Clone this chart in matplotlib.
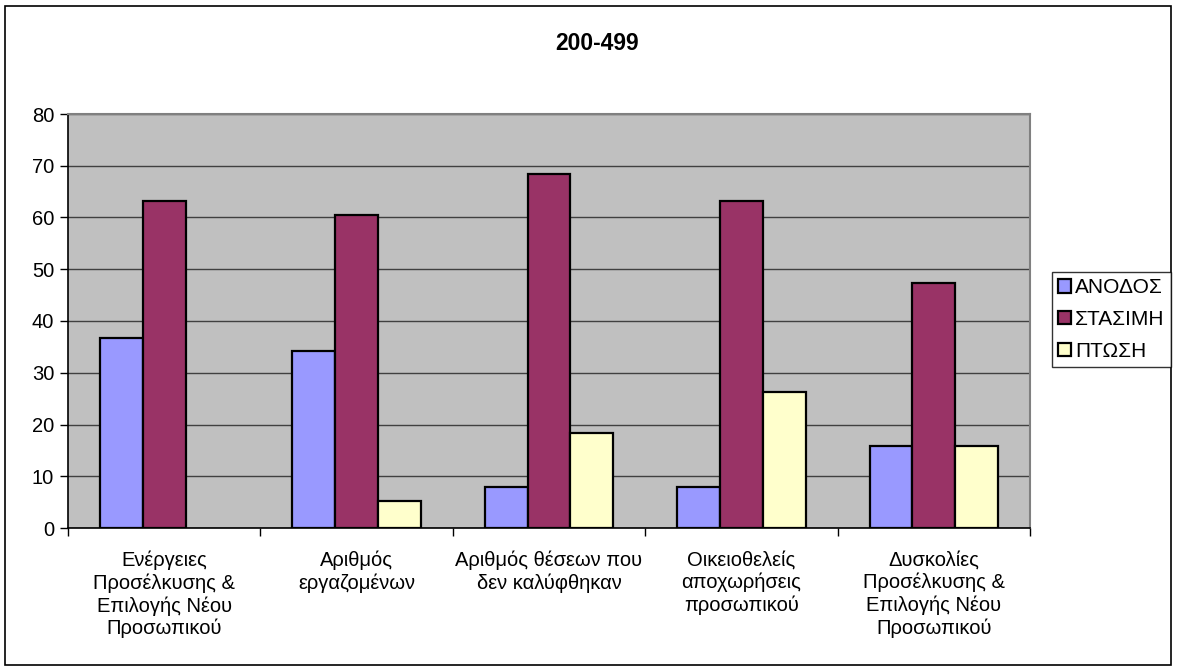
import numpy as np
import matplotlib.pyplot as plt
from matplotlib.patches import Rectangle, Patch

plt.rcParams['font.family'] = ['Liberation Sans', 'DejaVu Sans']

# Δεδομένα
categories = ['Ενέργειες\nΠροσέλκυσης &\nΕπιλογής Νέου\nΠροσωπικού',
              'Αριθμός\nεργαζομένων',
              'Αριθμός θέσεων που\nδεν καλύφθηκαν',
              'Οικειοθελείς\nαποχωρήσεις\nπροσωπικού',
              'Δυσκολίες\nΠροσέλκυσης &\nΕπιλογής Νέου\nΠροσωπικού']
series_names = ['ΑΝΟΔΟΣ', 'ΣΤΑΣΙΜΗ', 'ΠΤΩΣΗ']
anodos = [36.8, 34.2, 7.9, 7.9, 15.8]
stasimi = [63.2, 60.5, 68.4, 63.2, 47.4]
ptosi = [0, 5.3, 18.4, 26.3, 15.8]
colors = ['#9999FF', '#993366', '#FFFFCC']

fig = plt.figure(figsize=(11.77, 6.72), dpi=100)
W, H = 1177, 672

# περίγραμμα γραφήματος
fig.patches.append(Rectangle((5 / W, 1 - 665 / H), 1166 / W, 659 / H,
                             transform=fig.transFigure, fill=False,
                             edgecolor='black', linewidth=1.2))

ax = fig.add_axes([68 / W, 1 - 528 / H, (1030 - 68) / W, (528 - 114) / H])
ax.set_facecolor('#C0C0C0')

x = np.arange(len(categories))
w = 1 / 4.5
handles = []
for i, (vals, name) in enumerate(zip([anodos, stasimi, ptosi], series_names)):
    bars = ax.bar(x + (i - 1) * w, vals, w, color=colors[i], edgecolor='black',
                  linewidth=1.6, zorder=3)
    for b, v in zip(bars, vals):
        if v == 0:
            b.set_visible(False)
    handles.append(Patch(facecolor=colors[i], edgecolor='black',
                         linewidth=1.6, label=name))

ax.set_xlim(-0.5, len(categories) - 0.5)
ax.set_ylim(0, 80)
ax.set_yticks(np.arange(0, 81, 10))
ax.yaxis.grid(True, color='#404040', linewidth=1.0, zorder=1)
ax.set_axisbelow(True)
ax.tick_params(axis='y', labelsize=14.5, length=6, width=1, pad=4)

ax.set_xticks(np.arange(-0.5, len(categories)), minor=False)
ax.set_xticklabels([])
ax.set_xticks(x, minor=True)
ax.set_xticklabels(categories, minor=True, fontsize=14.5, linespacing=1.22)
ax.tick_params(axis='x', which='major', length=6, width=1)
ax.tick_params(axis='x', which='minor', length=0, pad=16)

for s in ['top', 'right']:
    ax.spines[s].set_color('#808080')
    ax.spines[s].set_linewidth(1.5)
for s in ['left', 'bottom']:
    ax.spines[s].set_color('black')
    ax.spines[s].set_linewidth(1.2)

fig.text(0.507, 1 - 43 / H, '200-499', ha='center', va='center',
         fontsize=16.5, fontweight='bold')

leg = fig.legend(handles=handles, loc='upper left',
                 bbox_to_anchor=(1052 / W, 1 - 272 / H),
                 fontsize=15, frameon=True, fancybox=False, edgecolor='black',
                 handlelength=0.6, handleheight=0.6, handletextpad=0.2,
                 borderpad=0.3, labelspacing=0.62, borderaxespad=0)
leg.get_frame().set_linewidth(1.0)

fig.savefig('out.png', dpi=100, facecolor='white')
